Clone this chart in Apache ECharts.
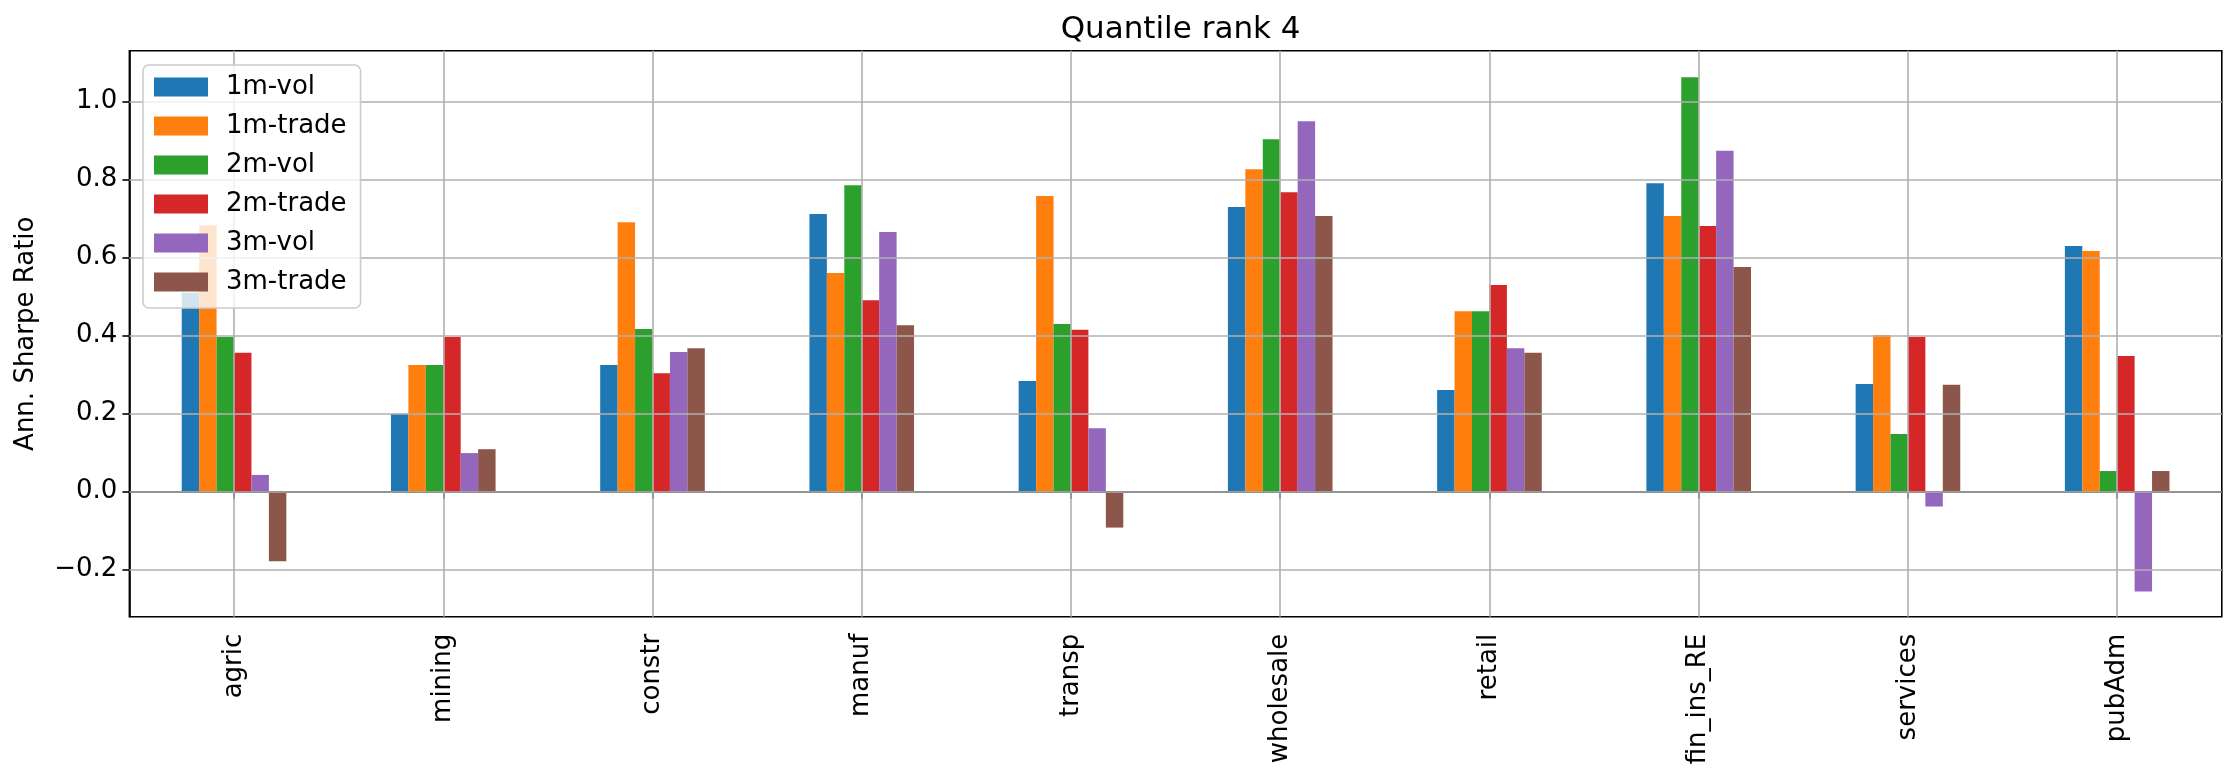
<!DOCTYPE html>
<html>
<head>
<meta charset="utf-8">
<script src="https://cdn.jsdelivr.net/npm/echarts@6/dist/echarts.min.js"></script>
<style>
html,body{margin:0;padding:0;background:#fff;}
#chart{width:2237px;height:783px;}
</style>
</head>
<body>
<div id="chart"></div>
<script>
const categories = ['agric','mining','constr','manuf','transp','wholesale','retail','fin_ins_RE','services','pubAdm'];
const seriesNames = ['1m-vol','1m-trade','2m-vol','2m-trade','3m-vol','3m-trade'];
const vol1   = [0.510, 0.200, 0.325, 0.712, 0.284, 0.730, 0.261, 0.791, 0.276, 0.630];
const trade1 = [0.683, 0.325, 0.691, 0.561, 0.758, 0.827, 0.463, 0.707, 0.402, 0.617];
const vol2   = [0.397, 0.325, 0.417, 0.786, 0.430, 0.904, 0.463, 1.063, 0.148, 0.053];
const trade2 = [0.356, 0.397, 0.304, 0.491, 0.415, 0.768, 0.530, 0.681, 0.397, 0.348];
const vol3   = [0.043, 0.099, 0.358, 0.666, 0.163, 0.950, 0.368, 0.874, -0.038, -0.256];
const trade3 = [-0.178, 0.109, 0.368, 0.427, -0.092, 0.707, 0.356, 0.576, 0.274, 0.053];
const yTicks = [-0.2, 0.0, 0.2, 0.4, 0.6, 0.8, 1.0];
const colors = ['#1f77b4','#ff7f0e','#2ca02c','#d62728','#9467bd','#8c564b'];

const allData = [vol1, trade1, vol2, trade2, vol3, trade3];
const FONT = 'DejaVu Sans';
const gridLineStyle = {color:'#b0b0b0', width:1.6, type:'solid'};

const series = allData.map((d, i) => ({
  name: seriesNames[i],
  type: 'bar',
  data: d,
  barGap: '0%',
  barCategoryGap: '50%',
  itemStyle: {color: colors[i]},
  emphasis: {disabled: true},
  animation: false
}));
// grid lines drawn above the bars (matplotlib default), via a dummy line series
series.push({
  name: '__grid',
  type: 'line',
  data: [],
  silent: true,
  z: 3,
  markLine: {
    silent: true,
    z: 3,
    symbol: ['none','none'],
    label: {show:false},
    lineStyle: gridLineStyle,
    animation: false,
    data: yTicks.map(v => ({yAxis: v})).concat(categories.map(c => ({xAxis: c})))
  }
});

const chart = echarts.init(document.getElementById('chart'), null, {renderer:'canvas'});
chart.setOption({
  animation: false,
  backgroundColor: '#ffffff',
  title: {
    text: 'Quantile rank 4',
    left: 1175.6,
    textAlign: 'center',
    top: 9,
    textStyle: {fontFamily: FONT, fontSize: 31, fontWeight: 'normal', color:'#000'}
  },
  legend: {
    orient: 'vertical',
    left: 143,
    top: 65,
    z: 10,
    data: seriesNames,
    icon: 'rect',
    itemWidth: 54,
    itemHeight: 19,
    itemGap: 13,
    padding: [9, 14, 13, 11],
    backgroundColor: 'rgba(255,255,255,0.8)',
    borderColor: '#cccccc',
    borderWidth: 1.6,
    borderRadius: 6,
    textStyle: {fontFamily: FONT, fontSize: 26, color:'#000', padding:[0,0,0,13]},
    selectedMode: false
  },
  grid: {
    left: 129.4, right: 15.2, top: 50.7, bottom: 166.3,
    show: true, borderColor: '#000', borderWidth: 1.6, backgroundColor: 'transparent'
  },
  xAxis: {
    type: 'category',
    data: categories,
    boundaryGap: true,
    axisLine: {show:true, lineStyle:{color:'#000', width:1.6}},
    axisTick: {show:true, alignWithLabel:true, length:7, lineStyle:{color:'#000', width:1.6}},
    splitLine: {show:false},
    axisLabel: {rotate: 90, margin: 17, fontFamily: FONT, fontSize: 26, color:'#000', interval: 0}
  },
  yAxis: {
    type: 'value',
    min: -0.3205,
    max: 1.1308,
    name: 'Ann. Sharpe Ratio',
    nameLocation: 'middle',
    nameGap: 90,
    nameTextStyle: {fontFamily: FONT, fontSize: 26, color:'#000'},
    axisLine: {show:true, lineStyle:{color:'#000', width:1.6}},
    axisTick: {show:true, length:7, customValues: yTicks, lineStyle:{color:'#000', width:1.6}},
    splitLine: {show:false},
    axisLabel: {
      customValues: yTicks,
      margin: 12,
      fontFamily: FONT, fontSize: 26, color:'#000',
      formatter: v => (v < -1e-9 ? '\u2212' : '') + Math.abs(v).toFixed(1)
    }
  },
  series: series
});
</script>
</body>
</html>
